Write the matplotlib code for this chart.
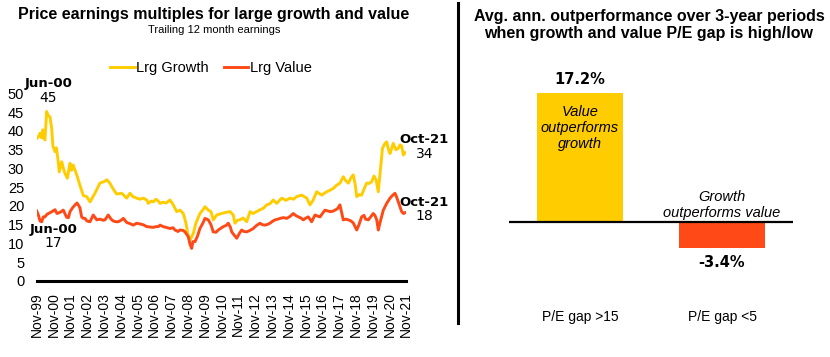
import matplotlib
matplotlib.use('Agg')
import matplotlib.pyplot as plt

# ---- data: left panel (months since Nov-99, P/E) ----
growth_month = [0, 1.3, 2.4, 3.4, 4.3, 5.2, 5.9, 7.1, 8.4, 9.5, 10.7, 11.6, 13.1, 14.1,
                15.4, 16.1, 17.9, 19.1, 20.2, 21.9, 23.8, 24.9, 26.1, 28.6, 30.9, 33.3,
                35.7, 38.1, 41.6, 45.2, 48.1, 50.2, 52.4, 54.7, 57.1, 60.7, 64.3, 66.6,
                68.8, 71.4, 73.8, 76.1, 78.6, 79.7, 81.6, 83.3, 85.2, 86.9, 88.1, 90.2,
                92.4, 95.2, 97.6, 100, 102.4, 104.7, 106.6, 108.3, 109.5, 111.9, 113.8,
                116.6, 118.8, 120.2, 122.6, 124.5, 126.1, 128.6, 132.1, 135.2, 138.1,
                140.4, 141.6, 143.4, 145.2, 147.4, 150, 152.4, 154.5, 157.1, 159.5,
                161.9, 164.3, 166.6, 169, 171.4, 175, 178.1, 180.9, 183.4, 185.7, 189.3,
                192.9, 195.2, 197.4, 200, 203.6, 207.1, 209.5, 211.9, 214.1, 216.6, 219,
                220.6, 222.6, 224.5, 226.1, 227.4, 228.6, 230.2, 232.1, 233.8, 235.7,
                237.4, 239.3, 240.9, 242.4, 244, 245.6, 247, 248.8, 250, 251.3, 252.4,
                254.7, 256.6, 258.3, 259.5, 260.7, 261.9, 263.1]
growth_pe = [38.0, 38.5, 39.4, 38.2, 40.3, 38.0, 37.6, 45.2, 44.0, 43.8, 40.7, 36.0, 34.5, 35.5,
             31.8, 29.1, 31.8, 30.0, 28.7, 27.4, 31.4, 29.5, 30.9, 28.3, 25.5, 22.8,
             22.5, 21.1, 23.4, 26.1, 26.5, 27.0, 26.0, 24.5, 23.2, 23.4, 22.1, 23.4,
             22.5, 22.1, 21.8, 22.1, 21.6, 20.7, 21.3, 21.1, 21.8, 21.3, 20.7, 21.0,
             20.8, 21.6, 20.3, 18.5, 18.9, 18.0, 15.5, 11.8, 10.9, 12.7, 15.5,
             18.0, 19.0, 19.8, 18.9, 18.5, 16.3, 17.6, 18.0, 18.3, 18.5,
             17.6, 15.4, 16.2, 16.3, 16.8, 15.8, 18.5, 18.0, 18.5, 19.0,
             19.4, 20.3, 20.6, 21.6, 20.7, 22.1, 21.5, 22.1, 21.8, 22.5, 22.9,
             22.1, 20.3, 21.5, 23.8, 22.9, 23.8, 24.2, 24.7, 25.5, 26.1, 27.8,
             26.8, 26.1, 27.5, 28.3, 26.0, 22.5, 23.0, 22.9, 24.5, 26.1,
             26.0, 26.5, 28.0, 27.0, 23.8, 30.0, 35.4, 36.7, 37.1, 35.0, 34.0,
             36.7, 35.0, 35.4, 36.3, 36.0, 33.6, 34.2]

value_month = [0, 1.3, 2.4, 3.6, 4.7, 5.9, 7.4, 9.5, 10.9, 13.1, 14.5, 16.6, 19, 21.4, 22.7,
               23.8, 25.6, 27.4, 28.8, 29.7, 30.9, 32.1, 33.3, 34.5, 35.9, 38.1, 40.4,
               42.9, 45.2, 47.4, 48.8, 51.1, 53.1, 54.7, 56.6, 58.3, 60.7, 61.9, 64.3,
               66.6, 69, 71.4, 73.8, 76.1, 78.6, 80.9, 83.3, 85.2, 86.9, 88.1, 90.4,
               92.4, 95.2, 97.4, 98.8, 100.9, 102.4, 104.5, 105.9, 108.3, 109.5, 110.7,
               111.6, 113.1, 114.9, 116.6, 118.8, 120.2, 122.6, 124.5, 126.1, 128.1,
               129.7, 131.3, 133.3, 135.2, 136.9, 138.4, 139.3, 140.9, 142.9, 144.5,
               146.4, 148.1, 150, 152.4, 154.7, 157, 159.5, 161.3, 163.1, 164.9, 166.6,
               168.4, 170.2, 172.4, 173.8, 176.3, 178.6, 180.9, 183.3, 184.9, 186.9,
               188.8, 190.4, 192.4, 194, 196.4, 198.8, 200.6, 202.4, 204.1, 205.9,
               207.7, 209.5, 211.6, 213.1, 214.9, 216.6, 217.7, 219, 220.9, 222.6,
               224.5, 226.1, 228.6, 230.2, 232.1, 233.8, 234.9, 236.9, 238.4, 240.4,
               241.6, 242.9, 244, 245.2, 247.6, 250, 252.4, 254.1, 255.9, 257, 258.3,
               259.5, 260.7, 262, 263.1]
value_pe = [18.7, 17.5, 16.0, 15.8, 17.1, 17.1, 17.8, 18.2, 18.5, 19.0, 18.0, 18.3, 18.9, 17.0, 16.9,
            18.5, 19.5, 20.3, 20.8, 20.3, 19.5, 17.1, 16.7, 16.7, 16.0, 15.8, 17.6,
            16.3, 16.5, 16.2, 16.3, 17.6, 16.5, 16.0, 15.8, 15.8, 16.3, 16.7, 15.6,
            15.3, 14.9, 15.4, 15.2, 15.0, 14.5, 14.4, 14.3, 14.5, 14.5, 14.9, 14.5,
            14.3, 14.0, 14.2, 13.6, 13.2, 13.6, 13.5, 13.1, 11.8, 9.8, 8.7,
            10.5, 10.5, 12.0, 14.0, 15.5, 16.7, 16.3, 15.0, 13.1, 13.0,
            13.6, 14.0, 14.5, 14.8, 15.4, 14.3, 13.1, 12.3, 11.4, 12.5,
            13.6, 13.2, 13.1, 13.5, 14.0, 14.8, 15.4, 15.0, 14.9, 15.1, 15.4,
            15.9, 16.3, 16.5, 16.7, 16.9, 16.7, 17.2, 18.0, 17.5, 17.1,
            16.8, 16.3, 16.8, 17.1, 15.8, 17.6, 17.3, 17.1, 18.0, 18.9,
            18.7, 18.5, 18.6, 18.9, 19.3, 20.3, 18.5, 16.3, 16.5, 16.3,
            16.0, 15.5, 13.6, 15.0, 17.1, 17.5, 16.5, 16.3, 17.0, 18.0,
            17.5, 16.3, 13.6, 15.5, 18.9, 20.7, 22.1, 22.8, 23.4, 22.5, 21.1,
            19.8, 18.5, 18.0, 18.2]

tick_labels = ['Nov-%02d' % (y % 100) for y in range(1999, 2022)]

# ---- data: right panel ----
gap_labels = ['P/E gap >15', 'P/E gap <5']
outperf = [17.2, -3.4]

YELLOW = '#FFCC00'
ORANGE = '#FF4A17'

fig = plt.figure(figsize=(8.3, 3.57), dpi=100)

# left: line chart
ax = fig.add_axes([0.0442, 0.2129, 0.4453, 0.5252])
ax.plot(growth_month, growth_pe, color=YELLOW, lw=2.1, label='Lrg Growth')
ax.plot(value_month, value_pe, color=ORANGE, lw=2.1, label='Lrg Value')
ax.set_xlim(0, 264)
ax.set_ylim(0, 50)
ax.set_yticks(range(0, 51, 5))
ax.set_xticks(range(0, 265, 12))
ax.set_xticklabels(tick_labels, rotation=90, fontsize=10, family='Liberation Sans')
for lab in ax.get_yticklabels():
    lab.set_fontsize(10.5)
    lab.set_family('Liberation Sans')
ax.tick_params(length=0)
ax.tick_params(axis='y', pad=9)
ax.tick_params(axis='x', pad=8)
for s in ['top', 'right', 'left']:
    ax.spines[s].set_visible(False)
ax.spines['bottom'].set_linewidth(2.2)
ax.spines['bottom'].set_color('black')

# annotations
ax.text(8.4, 52.7, 'Jun-00', fontsize=9.5, fontweight='bold', ha='center', va='center', clip_on=False)
ax.text(8.4, 48.9, '45', fontsize=10, ha='center', va='center', clip_on=False)
ax.text(12, 13.6, 'Jun-00', fontsize=9.5, fontweight='bold', ha='center', va='center')
ax.text(12, 10.1, '17', fontsize=10, ha='center', va='center')
ax.text(277, 37.6, 'Oct-21', fontsize=9.5, fontweight='bold', ha='center', va='center', clip_on=False)
ax.text(277, 33.9, '34', fontsize=10, ha='center', va='center', clip_on=False)
ax.text(277, 20.9, 'Oct-21', fontsize=9.5, fontweight='bold', ha='center', va='center', clip_on=False)
ax.text(277, 17.2, '18', fontsize=10, ha='center', va='center', clip_on=False)

fig.legend(loc='center', bbox_to_anchor=(211 / 830, 1 - 68 / 357), ncol=2, frameon=False,
           prop={'family': 'Liberation Sans', 'size': 10.5}, handlelength=1.7,
           handletextpad=0.1, columnspacing=1.0)

fig.text(214 / 830, 1 - 14 / 357, 'Price earnings multiples for large growth and value',
         fontsize=11.5, fontweight='bold', family='Liberation Sans', ha='center', va='center')
fig.text(214 / 830, 1 - 30 / 357, 'Trailing 12 month earnings', fontsize=8,
         family='Liberation Sans', ha='center', va='center')

# separator
fig.add_artist(plt.Line2D([458 / 830, 458 / 830], [1 - 3 / 357, 1 - 323 / 357],
                          color='black', lw=2.2))

# right: bar chart
bx = fig.add_axes([0.6133, 0.1672, 0.3422, 0.6303])
bx.bar([0, 1], outperf, width=0.6, color=[YELLOW, ORANGE])
bx.set_xlim(-0.5, 1.5)
bx.set_ylim(-10, 20)
bx.axhline(0, color='black', lw=1.6)
bx.axis('off')
bx.text(0, outperf[0] + 1.9, '17.2%', fontsize=10.5, fontweight='bold', ha='center', va='center')
bx.text(1, outperf[1] - 2.0, '-3.4%', fontsize=10.5, fontweight='bold', ha='center', va='center')
bx.text(0, 12.6, 'Value\noutperforms\ngrowth', fontsize=10.5, style='italic',
        family='Liberation Sans', ha='center', va='center', linespacing=1.2)
bx.text(1, 2.3, 'Growth\noutperforms value', fontsize=10.5, style='italic',
        family='Liberation Sans', ha='center', va='center', linespacing=1.2)
for i, lab in enumerate(gap_labels):
    bx.text(i, -12.6, lab, fontsize=10, family='Liberation Sans', ha='center', va='center',
            clip_on=False)

fig.text(649 / 830, 1 - 25 / 357,
         'Avg. ann. outperformance over 3-year periods\nwhen growth and value P/E gap is high/low',
         fontsize=11.5, fontweight='bold', family='Liberation Sans', ha='center', va='center',
         linespacing=1.15)

fig.savefig('out.png', dpi=100)
